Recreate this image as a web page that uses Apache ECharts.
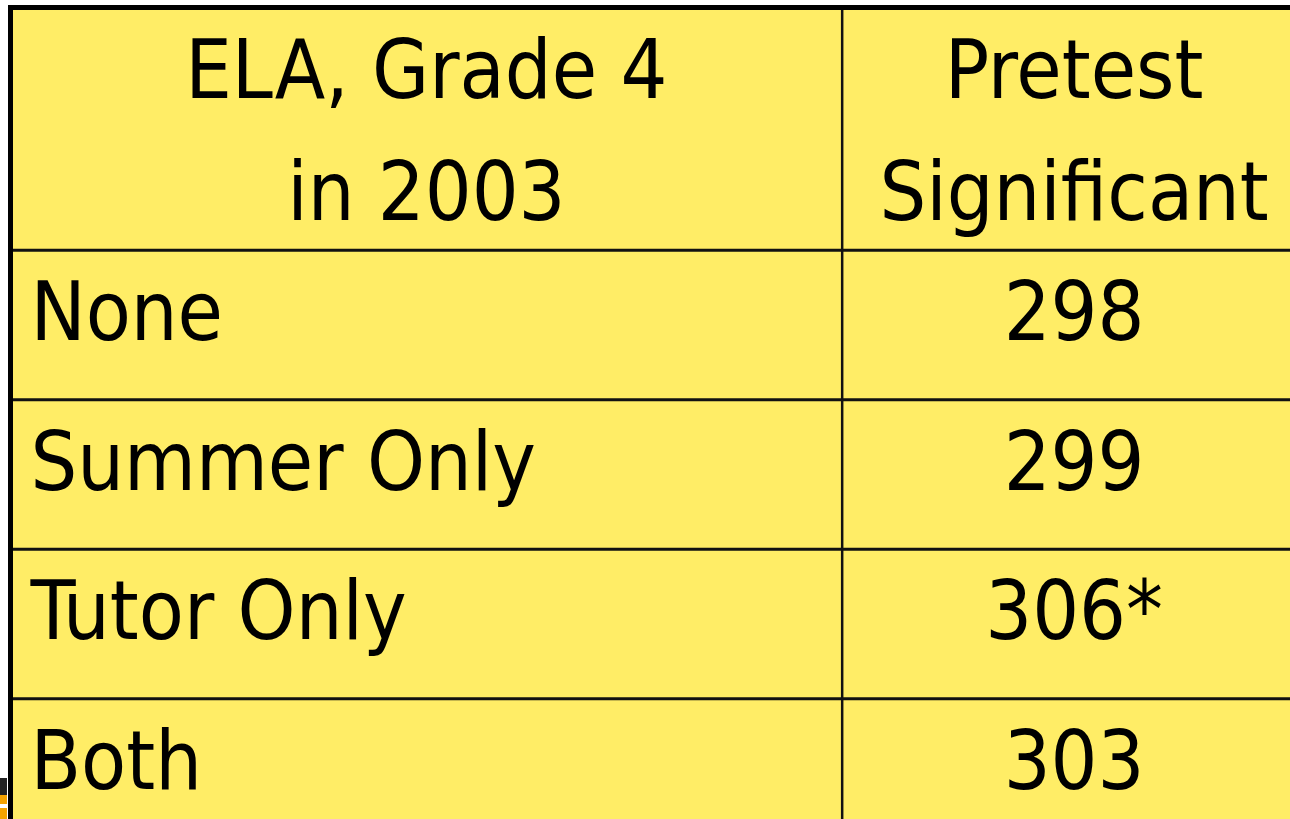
<!DOCTYPE html>
<html>
<head>
<meta charset="utf-8">
<script src="https://cdn.jsdelivr.net/npm/echarts@6/dist/echarts.min.js"></script>
<style>
  html, body, #main { width: 100%; height: 100%; margin: 0; background: #fff; }
</style>
</head>
<body>
<div id="main"></div>
<script>
// table content
var headers = ['ELA, Grade 4\nin 2003', 'Pretest\nSignificant'];
var groups = ['None', 'Summer Only', 'Tutor Only', 'Both'];
var pretest = [298, 299, 306, 303];
var significant = [false, false, true, false];

// layout: one data row = 1 y unit, visible width = 1 x unit (table runs past the edge)
var HEADER_H = 1.625;
var VISIBLE_ROWS = 5.43;
var COL_SPLIT = 0.65;
var TABLE_RIGHT = 1.0125;
var FONT = '"DejaVu Sans Condensed", "DejaVu Sans", sans-serif';
var FONT_SIZE = 82;
var HEADER_SHIFT = 9;
var TEXT_SHIFT = -6;

var rows = [{ value: [0], cells: headers }];
for (var i = 0; i < groups.length; i++) {
    rows.push({ value: [i + 1], cells: [groups[i], pretest[i] + (significant[i] ? '*' : '')] });
}

function rowTop(i) { return i === 0 ? 0 : HEADER_H + (i - 1); }
function rowBottom(i) { return i === 0 ? HEADER_H : HEADER_H + i; }

function renderRow(params, api) {
    var i = api.value(0);
    var cells = rows[i].cells;
    var tl = api.coord([0, rowTop(i)]);
    var br = api.coord([TABLE_RIGHT, rowBottom(i)]);
    var mid = api.coord([COL_SPLIT, 0])[0];
    var cy = (tl[1] + br[1]) / 2 + (i === 0 ? HEADER_SHIFT : TEXT_SHIFT);
    var children = [];
    // cell fill
    children.push({
        type: 'rect',
        shape: { x: tl[0], y: tl[1], width: br[0] - tl[0], height: br[1] - tl[1] },
        style: { fill: '#FFED66' },
        z2: 0
    });
    // horizontal line on top of the row
    children.push({
        type: 'line',
        shape: { x1: tl[0] - 2.5, y1: tl[1], x2: br[0], y2: tl[1] },
        style: { stroke: i === 0 ? '#000' : '#111', lineWidth: i === 0 ? 5 : 3 },
        z2: 2
    });
    // column divider
    children.push({
        type: 'line',
        shape: { x1: mid, y1: tl[1], x2: mid, y2: br[1] },
        style: { stroke: '#111', lineWidth: 2.5 },
        z2: 1
    });
    // thick left border
    children.push({
        type: 'line',
        shape: { x1: tl[0], y1: tl[1] - 2.5, x2: tl[0], y2: br[1] + 2 },
        style: { stroke: '#000', lineWidth: 5 },
        z2: 2
    });
    var textStyle = {
        fill: '#000',
        font: FONT_SIZE + 'px ' + FONT,
        lineHeight: 122,
        verticalAlign: 'middle'
    };
    children.push({
        type: 'text',
        z2: 3,
        style: Object.assign({}, textStyle, {
            text: cells[0],
            x: i === 0 ? (tl[0] + mid) / 2 : tl[0] + 20,
            y: cy,
            align: i === 0 ? 'center' : 'left'
        })
    });
    children.push({
        type: 'text',
        z2: 3,
        style: Object.assign({}, textStyle, {
            text: cells[1],
            x: (mid + br[0]) / 2,
            y: cy,
            align: 'center'
        })
    });
    return { type: 'group', children: children };
}

var chart = echarts.init(document.getElementById('main'));
chart.setOption({
    animation: false,
    backgroundColor: '#fff',
    grid: {
        left: 10.5,
        top: 7.5,
        right: 0,
        bottom: 0
    },
    xAxis: { type: 'value', min: 0, max: 1, show: false },
    yAxis: { type: 'value', min: 0, max: VISIBLE_ROWS, inverse: true, show: false },
    graphic: [
        { type: 'rect', shape: { x: 0, y: 778, width: 7, height: 17 }, style: { fill: '#222' } },
        { type: 'rect', shape: { x: 0, y: 795, width: 7, height: 9 }, style: { fill: '#F5A300' } },
        { type: 'rect', shape: { x: 0, y: 808, width: 7, height: 11 }, style: { fill: '#F5A300' } }
    ],
    series: [{
        type: 'custom',
        silent: true,
        clip: false,
        renderItem: renderRow,
        data: rows.map(function (r) { return r.value; })
    }]
});
</script>
</body>
</html>
